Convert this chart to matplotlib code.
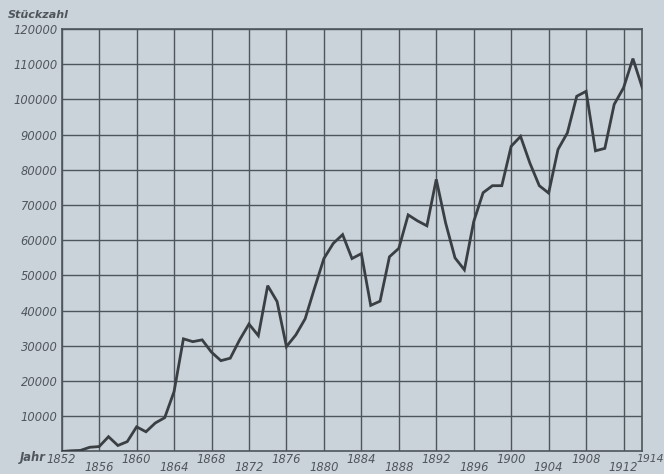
import matplotlib
matplotlib.use("Agg")
import matplotlib.pyplot as plt
import numpy as np

years = list(range(1852, 1915))
stueckzahl = [
    0, 200, 300, 1200, 1400, 4200, 1700, 2800, 7000, 5600,   # 1852-1861
    8100, 9600, 17000, 32000, 31200, 31700, 28200, 25800, 26500, 31700,  # 1862-1871
    36200, 32900, 47100, 42600, 29800, 33100, 37700, 46400, 54800, 59100,  # 1872-1881
    61600, 54800, 56200, 41500, 42700, 55300, 57700, 67200, 65500, 64100,  # 1882-1891
    77300, 64900, 55000, 51600, 65300, 73500, 75500, 75500, 86700, 89500,  # 1892-1901
    81900, 75500, 73400, 85800, 90500, 100900, 102300, 85400, 86100, 98600,  # 1902-1911
    103300, 111600, 103300,  # 1912-1914
]
upper_years = [1852, 1860, 1868, 1876, 1884, 1892, 1900, 1908]
lower_years = [1856, 1864, 1872, 1880, 1888, 1896, 1904, 1912]
end_year = 1914
y_ticks = list(range(10000, 120001, 10000))
y_labels = [str(v) for v in y_ticks]

bg = "#c9d3d9"
ink = "#3a3f44"
grid_c = "#4e555b"
txt_c = "#50565c"

fig = plt.figure(figsize=(6.64, 4.74), dpi=100, facecolor=bg)
ax = fig.add_axes([0.0929, 0.0475, 0.8744, 0.8913])
ax.set_facecolor(bg)

ax.plot(years, stueckzahl, color=ink, lw=2.0, solid_joinstyle="miter", zorder=3)

ax.set_xlim(1852, end_year)
ax.set_ylim(0, 120000)

ax.set_xticks(upper_years)
ax.set_xticks(lower_years, minor=True)
ax.set_xticklabels([str(y) for y in upper_years])
ax.set_xticklabels([str(y) for y in lower_years], minor=True)
ax.set_yticks(y_ticks)
ax.set_yticklabels(y_labels)

fs = 8.3
ax.tick_params(axis="x", which="major", length=0, pad=1.2, labelsize=fs, labelcolor=txt_c)
ax.tick_params(axis="x", which="minor", length=0, pad=7.0, labelsize=fs, labelcolor=txt_c)
ax.tick_params(axis="y", length=0, pad=3, labelsize=fs, labelcolor=txt_c)
for lab in ax.get_xticklabels(which="both") + ax.get_yticklabels():
    lab.set_fontstyle("italic")

# end-year label sits just right of the frame corner
ax.annotate(str(end_year), xy=(end_year, 0), xycoords=("data", "axes fraction"),
            xytext=(-6, -8), textcoords="offset pixels", ha="left", va="center",
            fontsize=7.8, style="italic", color=txt_c, annotation_clip=False)

ax.grid(True, which="both", color=grid_c, lw=1.0)
for s in ax.spines.values():
    s.set_color(grid_c)
    s.set_linewidth(1.2)

fig.text(0.030, 0.0345, "Jahr", fontsize=fs, style="italic", color=txt_c,
         ha="left", va="center", fontweight="bold")
fig.text(0.012, 0.968, "Stückzahl", fontsize=8, style="italic", color=txt_c,
         ha="left", va="center", fontweight="bold")

fig.savefig("out.png", dpi=100, facecolor=bg)
